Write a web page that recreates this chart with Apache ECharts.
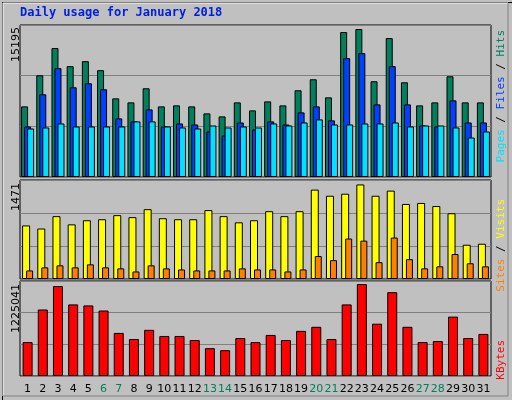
<!DOCTYPE html><html><head><meta charset="utf-8">
<script src="https://cdn.jsdelivr.net/npm/echarts@6/dist/echarts.min.js"></script>
<style>html,body{margin:0;padding:0;background:#fff}#c{width:512px;height:400px}</style></head><body><div id="c"></div>
<script>
const days=['1','2','3','4','5','6','7','8','9','10','11','12','13','14','15','16','17','18','19','20','21','22','23','24','25','26','27','28','29','30','31'];
const weekend=['6','7','13','14','20','21','27','28'];
const hits=[7060,10170,12890,11080,11580,10680,7860,7460,8870,7060,7160,7060,6360,6060,7460,6660,7560,7160,8670,9770,7960,14490,14790,9570,13890,9470,7160,7460,10070,7460,7460];
const files=[5050,8270,10880,8970,9370,8770,5860,5560,6760,5050,5350,5250,4550,4150,5450,4750,5560,5250,6460,7060,5660,11880,12380,7260,11080,7260,5150,5050,7660,5450,5450];
const pages=[4850,4950,5350,5050,5050,5050,5050,5560,5560,5050,4950,4850,5150,4950,5050,4950,5350,5150,5450,5760,5250,5250,5350,5350,5450,5050,5150,5150,4950,3950,4550];
const visits=[796,750,934,812,873,888,949,919,1038,903,888,888,1024,934,842,873,1008,934,1008,1328,1237,1267,1405,1237,1313,1115,1130,1084,977,509,524];
const sites=[127,173,203,173,218,173,158,112,203,158,142,127,127,127,158,142,142,112,142,341,280,601,570,250,616,295,158,188,371,234,188];
const kbytes=[437500,857500,1159400,923100,910000,844400,555600,476900,595000,516200,516200,463800,358800,332500,490000,437500,529400,463800,582000,634300,476900,923100,1185600,674400,1080600,634300,437500,450600,765600,490000,542500];
const maxTop=15195, maxMid=1471, maxBot=1225041;
const L=20,R=21;
const grids=[{left:L,right:R,top:25,height:152},{left:L,right:R,top:180,height:99},{left:L,right:R,top:281,height:95}];
function xa(i,show){return {type:'category',gridIndex:i,data:days,axisTick:{show:false},axisLine:{show:false},
 axisLabel:{show:show,margin:8,fontFamily:'DejaVu Sans',fontSize:11,color:(v)=>weekend.includes(v)?'#00805c':'#000',interval:0}};}
function ya(i,max){return {type:'value',gridIndex:i,min:0,max:max,interval:max/3,axisLabel:{show:false},axisLine:{show:false},axisTick:{show:false},
 splitLine:{lineStyle:{color:'#808080',width:1}}};}
const bs={borderColor:'#000',borderWidth:1};
const mono='11px "DejaVu Sans Mono"';
const chart=echarts.init(document.getElementById('c'));
chart.setOption({
 backgroundColor:'#c0c0c0',animation:false,
 grid:grids.map(g=>Object.assign({show:true,backgroundColor:'#c0c0c0',borderColor:'#000',borderWidth:1},g)),
 xAxis:[xa(0,false),xa(1,false),xa(2,true)],
 yAxis:[ya(0,maxTop),ya(1,maxMid),ya(2,maxBot)],
 series:[
  {type:'bar',xAxisIndex:0,yAxisIndex:0,data:hits,barWidth:7,barGap:'-57%',itemStyle:Object.assign({color:'#00805c'},bs)},
  {type:'bar',xAxisIndex:0,yAxisIndex:0,data:files,barWidth:7,barGap:'-57%',itemStyle:Object.assign({color:'#0040ff'},bs)},
  {type:'bar',xAxisIndex:0,yAxisIndex:0,data:pages,barWidth:7,barGap:'-57%',itemStyle:Object.assign({color:'#00e0ff'},bs)},
  {type:'bar',xAxisIndex:1,yAxisIndex:1,data:visits,barWidth:8,barGap:'-50%',itemStyle:Object.assign({color:'#ffff00'},bs)},
  {type:'bar',xAxisIndex:1,yAxisIndex:1,data:sites,barWidth:7,barGap:'-50%',itemStyle:Object.assign({color:'#ff8000'},bs)},
  {type:'bar',xAxisIndex:2,yAxisIndex:2,data:kbytes,barWidth:10,itemStyle:Object.assign({color:'#ff0000'},bs)}
 ],
 graphic:[
  {type:'rect',left:0,top:0,z:-10,shape:{width:511,height:399},style:{fill:'none',stroke:'#000',lineWidth:1}},
  {type:'polyline',z:-9,shape:{points:[[3,396],[3,3],[508,3]]},style:{stroke:'#fff',fill:'none',lineWidth:1}},
  {type:'polyline',z:-9,shape:{points:[[508,3],[508,396],[3,396]]},style:{stroke:'#808080',fill:'none',lineWidth:1}},
  {type:'text',left:20,top:7,style:{text:'Daily usage for January 2018',fill:'#0020e0',font:'bold 12px "DejaVu Sans Mono"'}},
  {type:'text',x:11,y:27,rotation:Math.PI/2,style:{text:String(maxTop),fill:'#000',font:'11px "DejaVu Sans"',textAlign:'right'}},
  {type:'text',x:11,y:183,rotation:Math.PI/2,style:{text:String(maxMid),fill:'#000',font:'11px "DejaVu Sans"',textAlign:'right'}},
  {type:'text',x:11,y:284,rotation:Math.PI/2,style:{text:String(maxBot),fill:'#000',font:'11px "DejaVu Sans"',textAlign:'right'}},
  {type:'text',x:496,y:30,rotation:Math.PI/2,style:{textAlign:'right',text:'{p|Pages}{s| / }{f|Files}{s| / }{h|Hits}',font:mono,rich:{p:{fill:'#00e0ff',font:mono},f:{fill:'#0040ff',font:mono},h:{fill:'#00805c',font:mono},s:{fill:'#000',font:mono}}}},
  {type:'text',x:496,y:199,rotation:Math.PI/2,style:{textAlign:'right',text:'{a|Sites}{s| / }{b|Visits}',font:mono,rich:{a:{fill:'#ff8000',font:mono},b:{fill:'#ffff00',font:mono},s:{fill:'#000',font:mono}}}},
  {type:'text',x:496,y:340,rotation:Math.PI/2,style:{textAlign:'right',text:'KBytes',fill:'#ff0000',font:mono}}
 ]
});
</script></body></html>
